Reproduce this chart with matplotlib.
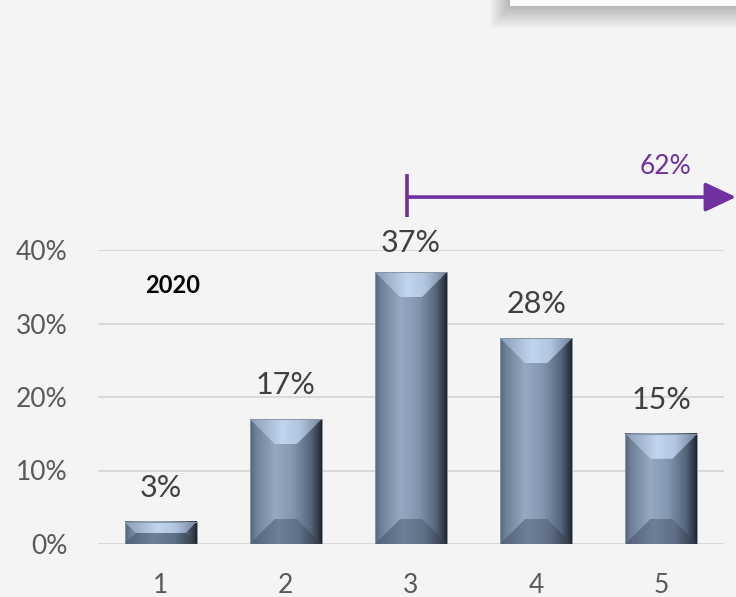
import numpy as np
import matplotlib
matplotlib.use("Agg")
import matplotlib.pyplot as plt
from matplotlib.colors import LinearSegmentedColormap
from matplotlib.patches import Polygon, Rectangle

categories = ["1", "2", "3", "4", "5"]
values = [0.03, 0.17, 0.37, 0.28, 0.15]
value_labels = ["3%", "17%", "37%", "28%", "15%"]
y_ticks = [0.0, 0.1, 0.2, 0.3, 0.4]
y_tick_labels = ["0%", "10%", "20%", "30%", "40%"]
year_label = "2020"
bracket_label = "62%"
bracket_start_index = 2

plt.rcParams['font.family'] = ['Lato', 'DejaVu Sans']

W, H = 736, 597
fig = plt.figure(figsize=(W / 100, H / 100), dpi=100)
bg = "#f4f4f4"
fig.patch.set_facecolor(bg)

ax_l, ax_r, ax_t, ax_b = 98, 724, 250, 544
ax = fig.add_axes([ax_l / W, 1 - ax_b / H, (ax_r - ax_l) / W, (ax_b - ax_t) / H])
ax.set_facecolor(bg)
xlim = (0.5, 5.5)
ylim = (0, 0.4)
px_x = (ax_r - ax_l) / (xlim[1] - xlim[0])
px_y = (ax_b - ax_t) / (ylim[1] - ylim[0])

for s in ax.spines.values():
    s.set_visible(False)
ax.set_yticks(y_ticks)
ax.set_yticklabels(y_tick_labels)
ax.yaxis.grid(True, color="#d9d9d9", linewidth=1.4)
ax.set_axisbelow(True)
ax.tick_params(length=0, labelsize=19, colors="#595959")
ax.tick_params(axis='y', pad=22)
ax.tick_params(axis='x', pad=21)

xs = np.arange(1, len(categories) + 1)
ax.set_xticks(xs)
ax.set_xticklabels(categories)

bar_w = 0.575
main_cmap = LinearSegmentedColormap.from_list(
    "m", [(0, "#56657a"), (0.08, "#6e7f97"), (0.35, "#97a9c2"), (0.6, "#8396b0"),
          (0.85, "#55647a"), (0.95, "#333c4a"), (1, "#1f252e")])
top_cmap = LinearSegmentedColormap.from_list(
    "t", [(0, "#8a9cb6"), (0.45, "#c2d5ee"), (0.7, "#b2c5e0"), (1, "#6f819b")])
bot_cmap = LinearSegmentedColormap.from_list(
    "b", [(0, "#52617a"), (0.4, "#6e7f97"), (0.7, "#5e6e84"), (1, "#2c3440")])
grad = np.linspace(0, 1, 256).reshape(1, -1)

for x, v, lab in zip(xs, values, value_labels):
    x0, x1 = x - bar_w / 2, x + bar_w / 2
    ax.imshow(grad, extent=[x0, x1, 0, v], aspect='auto', cmap=main_cmap,
              origin='lower', zorder=2, interpolation='bilinear')
    bev_px = min(25, v * px_y / 2)
    dx, dy = bev_px / px_x, bev_px / px_y
    top = Polygon([(x0, v), (x1, v), (x1 - dx, v - dy), (x0 + dx, v - dy)],
                  closed=True, facecolor='none', edgecolor='none')
    ax.add_patch(top)
    im = ax.imshow(grad, extent=[x0, x1, v - dy, v], aspect='auto', cmap=top_cmap,
                   origin='lower', zorder=3, interpolation='bilinear')
    im.set_clip_path(top)
    bot = Polygon([(x0, 0), (x1, 0), (x1 - dx, dy), (x0 + dx, dy)],
                  closed=True, facecolor='none', edgecolor='none')
    ax.add_patch(bot)
    im2 = ax.imshow(grad, extent=[x0, x1, 0, dy], aspect='auto', cmap=bot_cmap,
                    origin='lower', zorder=3, interpolation='bilinear')
    im2.set_clip_path(bot)
    ax.add_patch(Rectangle((x0, 0), bar_w, v, facecolor='none',
                           edgecolor="#8a95a5", linewidth=0.7, zorder=4))
    ly = min(v + 34 / px_y, ylim[1] + 7 / px_y)
    ax.text(x, ly, lab, ha='center', va='center', fontsize=22,
            color="#404040", zorder=5, clip_on=False)

ax.set_xlim(*xlim)
ax.set_ylim(*ylim)

# year label
ax.text(1.1, 0.352, year_label, ha='center', va='center', fontsize=17,
        fontweight='bold', color='black')

# bracket arrow
purple = "#7030a0"
bx = xs[bracket_start_index] - 4 / px_x
by = 0.472
ax.plot([bx, bx], [by - 20 / px_y, by + 23 / px_y], color=purple, lw=2.6,
        clip_on=False, solid_capstyle='butt')
x_end = xlim[1] + (W - ax_r) / px_x
ax.annotate("", xy=(x_end, by), xytext=(bx, by),
            arrowprops=dict(arrowstyle="-|>,head_length=1.9,head_width=0.9",
                            color=purple, lw=2.6, shrinkA=0, shrinkB=0),
            annotation_clip=False)
ax.text(5.03, by + 31 / px_y, bracket_label, ha='center', va='center',
        fontsize=19, color=purple)

# top-right shadowed box
n = 20
for i in range(n):
    fig.patches.append(Rectangle(((510 - 20 + i * 1.0) / W, 1 - (6 + 22 - i * 1.1) / H),
                                 1, 0.2, transform=fig.transFigure,
                                 facecolor='black', alpha=0.012, edgecolor='none'))
fig.patches.append(Rectangle((510 / W, 1 - 6 / H), 1, 0.2, transform=fig.transFigure,
                             facecolor='#fbfbfb', edgecolor='none'))

fig.savefig("out.png", dpi=100, facecolor=bg)
